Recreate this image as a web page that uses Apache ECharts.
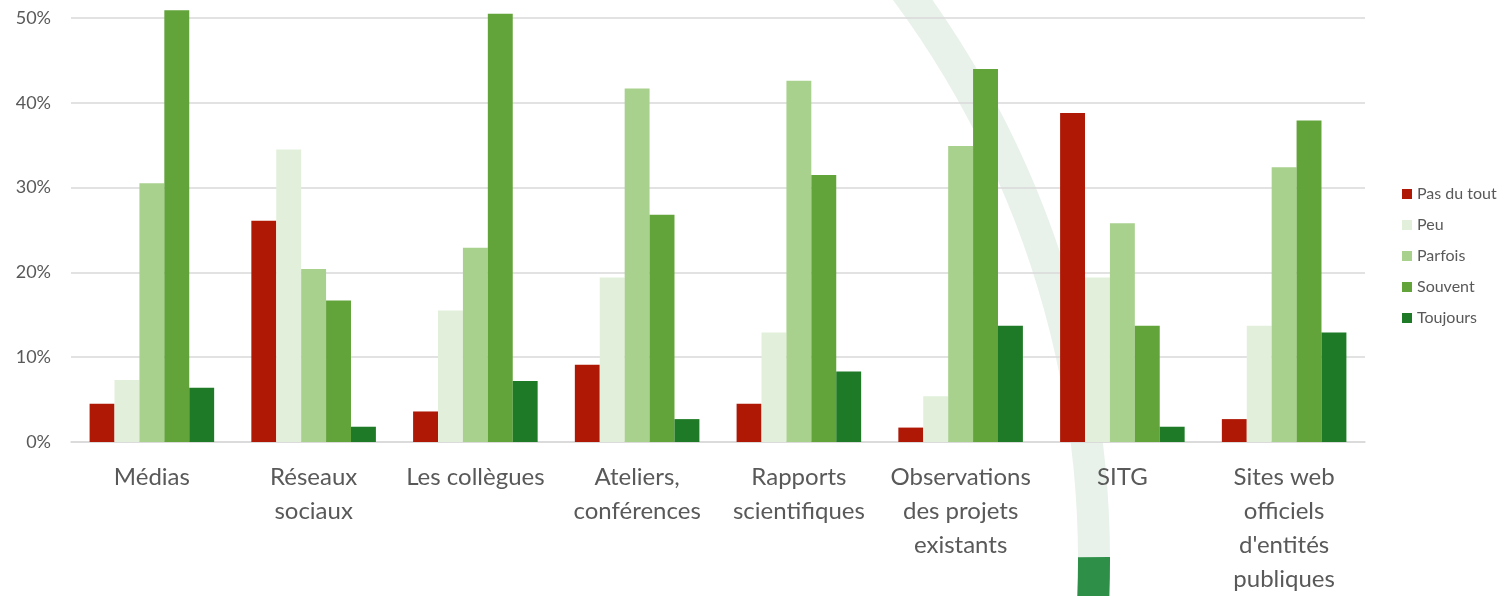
<!DOCTYPE html>
<html>
<head>
<meta charset="utf-8">
<script src="https://cdn.jsdelivr.net/npm/echarts@6/dist/echarts.min.js"></script>
<style>
html,body{margin:0;padding:0;background:#fff;overflow:hidden;}
#chart{width:1506px;height:596px;}
</style>
</head>
<body>
<div id="chart"></div>
<script>
const categories = ["Médias", "Réseaux\nsociaux", "Les collègues", "Ateliers,\nconférences", "Rapports\nscientifiques", "Observations\ndes projets\nexistants", "SITG", "Sites web\nofficiels\nd'entités\npubliques"];
const seriesNames = ["Pas du tout", "Peu", "Parfois", "Souvent", "Toujours"];
const pasDuTout = [4.5, 26.1, 3.6, 9.1, 4.5, 1.7, 38.8, 2.7];
const peu       = [7.3, 34.5, 15.5, 19.4, 12.9, 5.4, 19.4, 13.7];
const parfois   = [30.5, 20.4, 22.9, 41.7, 42.6, 34.9, 25.8, 32.4];
const souvent   = [50.9, 16.7, 50.5, 26.8, 31.5, 44.0, 13.7, 37.9];
const toujours  = [6.4, 1.8, 7.2, 2.7, 8.3, 13.7, 1.8, 12.9];
const yTicks = [0, 10, 20, 30, 40, 50];

const colors = ["#ae1805", "#e2efda", "#a9d18e", "#62a33a", "#1e7a26"];
const values = [pasDuTout, peu, parfois, souvent, toujours];
const font = "Lato, 'Open Sans', sans-serif";

const chart = echarts.init(document.getElementById('chart'), null, {renderer: 'canvas'});
chart.setOption({
  animation: false,
  backgroundColor: '#ffffff',
  graphic: [
    {type: 'ring', z: -10, silent: true,
     shape: {cx: 138, cy: 560, r: 972, r0: 940},
     style: {fill: '#e8f2ea'}},
    {type: 'sector', z: -9, silent: true,
     shape: {cx: 138, cy: 560, r: 972, r0: 940, startAngle: -0.003, endAngle: 0.3, clockwise: true},
     style: {fill: '#2e8f48'}}
  ],
  grid: {left: 71, right: 141, top: 18, bottom: 150, containLabel: false},
  legend: {
    orient: 'vertical', left: 1397, top: 181,
    itemWidth: 10, itemHeight: 10, itemGap: 15,
    icon: 'rect',
    textStyle: {color: '#595959', fontSize: 16, lineHeight: 16, fontFamily: font},
    data: seriesNames
  },
  xAxis: {
    type: 'category', data: categories,
    axisLine: {show: true, lineStyle: {color: '#d9d9d9', width: 1.5}},
    axisTick: {show: false},
    axisLabel: {color: '#595959', fontSize: 24, fontFamily: font, lineHeight: 34, margin: 18, interval: 0}
  },
  yAxis: {
    type: 'value', min: 0, max: 50, interval: 10,
    axisLine: {show: false}, axisTick: {show: false},
    splitLine: {lineStyle: {color: '#d9d9d9', width: 1.5}},
    axisLabel: {color: '#595959', fontSize: 18, fontFamily: font, margin: 20,
      formatter: v => yTicks.includes(v) ? v + '%' : ''}
  },
  series: seriesNames.map((n, i) => ({
    name: n, type: 'bar', data: values[i], clip: false,
    barGap: '0%', barCategoryGap: '23%',
    itemStyle: {color: colors[i]}
  }))
});
</script>
</body>
</html>
